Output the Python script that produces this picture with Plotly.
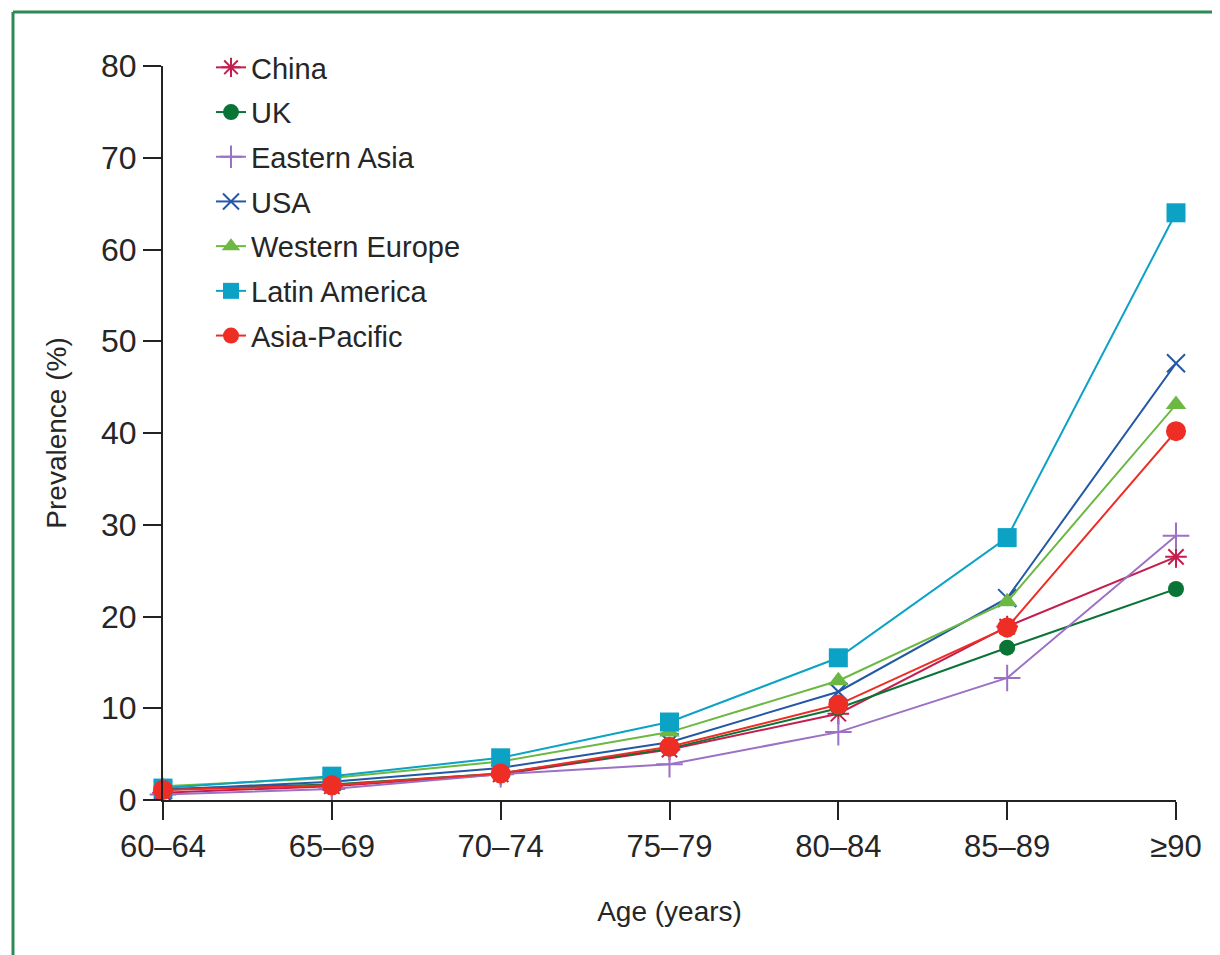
import plotly.graph_objects as go

age_groups = ["60–64", "65–69", "70–74", "75–79", "80–84", "85–89", "≥90"]

china = [0.8, 1.5, 2.8, 5.5, 9.4, 18.9, 26.5]
uk = [1.2, 1.7, 2.9, 5.6, 10.0, 16.6, 23.0]
eastern_asia = [0.6, 1.2, 2.8, 3.9, 7.4, 13.3, 28.8]
usa = [1.1, 2.0, 3.5, 6.3, 11.8, 22.0, 47.6]
western_europe = [1.5, 2.4, 4.2, 7.4, 13.0, 21.6, 43.1]
latin_america = [1.3, 2.6, 4.6, 8.5, 15.5, 28.6, 64.0]
asia_pacific = [1.1, 1.6, 2.9, 5.8, 10.4, 18.8, 40.2]

y_ticks = [0, 10, 20, 30, 40, 50, 60, 70, 80]

series = [
    ("China", china, "#C41E4E", "asterisk-open", 18, 2),
    ("UK", uk, "#0A7437", "circle", 16, 0),
    ("Eastern Asia", eastern_asia, "#9C70C4", "cross-thin-open", 19, 2),
    ("USA", usa, "#2358A6", "x-thin-open", 18, 2),
    ("Western Europe", western_europe, "#6BB843", "triangle-up", 18, 0),
    ("Latin America", latin_america, "#0CA2C5", "square", 19, 0),
    ("Asia-Pacific", asia_pacific, "#EE2D24", "circle", 20, 0),
]

FONT = "Liberation Sans, Arial, sans-serif"
TXT = "#262626"

fig = go.Figure()
for name, vals, col, sym, size, lw in series:
    marker = dict(symbol=sym, size=size, color=col)
    if lw:
        marker["line"] = dict(color=col, width=lw)
    else:
        marker["line"] = dict(width=0)
    fig.add_trace(go.Scatter(
        x=age_groups, y=vals, mode="lines+markers", name=name,
        line=dict(color=col, width=2), marker=marker,
        cliponaxis=False, legendgroup=name,
    ))

# Layout geometry (pixels); page body has an 8px margin
OFF = 8
W, H = 1220 - OFF, 955 - OFF
L, T = 163 - OFF, 66 - OFF
R = W - (1176 - OFF)
B = H - (800 - OFF)
pw, ph = W - L - R, H - T - B


def px(xs):
    # xs: screen x in reference
    return (xs - OFF - L) / pw


def py(ys):
    return (H - B - (ys - OFF)) / ph


frame_col = "#2E8A55"
shapes = [
    dict(type="line", xref="paper", yref="paper", x0=px(13), x1=px(1230),
         y0=py(12), y1=py(12), line=dict(color=frame_col, width=3)),
    dict(type="line", xref="paper", yref="paper", x0=px(13), x1=px(13),
         y0=py(12), y1=py(965), line=dict(color=frame_col, width=3)),
]

fig.update_layout(
    width=W, height=H,
    margin=dict(l=L, r=R, t=T, b=B, pad=0),
    paper_bgcolor="white", plot_bgcolor="white",
    font=dict(family=FONT, color=TXT, size=30),
    shapes=shapes,
    showlegend=True,
    legend=dict(
        x=px(211), y=py(42), xanchor="left", yanchor="top",
        font=dict(size=29, family=FONT, color=TXT),
        bgcolor="rgba(0,0,0,0)", tracegroupgap=4,
        itemsizing="trace",
    ),
    xaxis=dict(
        type="category", range=[0, 6],
        showgrid=False, zeroline=False,
        showline=True, linecolor="#222", linewidth=2,
        ticks="outside", ticklen=18, tickwidth=2, tickcolor="#222",
        tickfont=dict(size=31, family=FONT, color=TXT),
        title=dict(text="Age (years)", font=dict(size=28, family=FONT, color=TXT), standoff=38),
    ),
    yaxis=dict(
        range=[0, 80], tickvals=y_ticks,
        showgrid=False, zeroline=False,
        showline=True, linecolor="#222", linewidth=2,
        ticks="outside", ticklen=18, tickwidth=2, tickcolor="#222",
        tickfont=dict(size=32, family=FONT, color=TXT),
        title=dict(text="Prevalence (%)", font=dict(size=28, family=FONT, color=TXT), standoff=26),
    ),
)

fig.write_html("out.html")
